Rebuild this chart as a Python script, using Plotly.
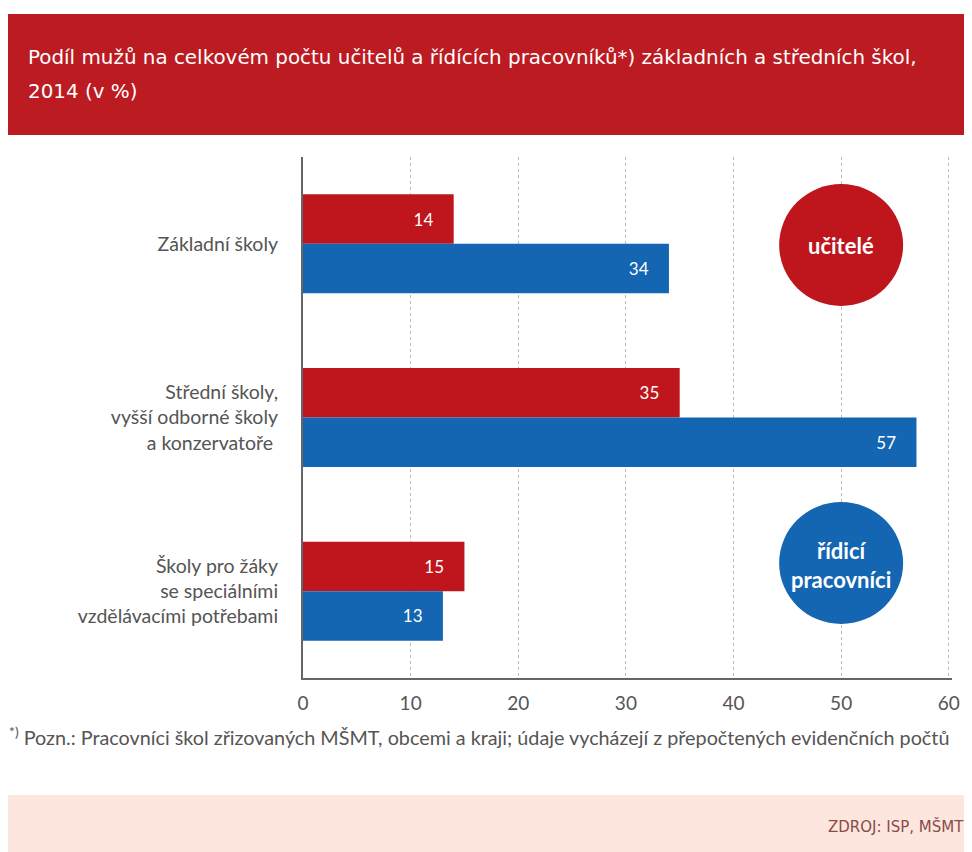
import plotly.graph_objects as go

categories = ["Základní školy",
              "Střední školy,<br>vyšší odborné školy<br>a konzervatoře ",
              "Školy pro žáky<br>se speciálními<br>vzdělávacími potřebami"]
teachers = [14, 35, 15]
managers = [34, 57, 13]
x_ticks = [0, 10, 20, 30, 40, 50, 60]

RED = "#BE161C"
BLUE = "#1466B2"
PAD = "\u00a0" * 4

O = 8  # page body margin
W, H = 972 - O, 852 - O
L, R, T, B = 303 - O, 952 - O, 157 - O, 678 - O  # plot area pixels (figure coords)
def px(x): return (x - O - L) / (R - L)
def py(y): return (B - (y - O)) / (B - T)

fig = go.Figure()
fig.add_trace(go.Bar(y=categories, x=teachers, orientation="h", name="učitelé",
                     marker=dict(color=RED, line=dict(width=0)),
                     text=[str(v) + PAD for v in teachers], textposition="inside",
                     insidetextanchor="end",
                     textfont=dict(color="white", size=17, family="Lato")))
fig.add_trace(go.Bar(y=categories, x=managers, orientation="h", name="řídicí pracovníci",
                     marker=dict(color=BLUE, line=dict(width=0)),
                     text=[str(v) + PAD for v in managers], textposition="inside",
                     insidetextanchor="end",
                     textfont=dict(color="white", size=17, family="Lato")))

shapes = [
    dict(type="rect", xref="paper", yref="paper", x0=px(8), x1=px(985), y0=py(135), y1=py(14),
         fillcolor="#BC1B21", line=dict(width=0), layer="below"),
    dict(type="rect", xref="paper", yref="paper", x0=px(8), x1=px(985), y0=py(870), y1=py(795),
         fillcolor="#FCE6DE", line=dict(width=0), layer="below"),
    dict(type="circle", xref="x", xsizemode="pixel", xanchor=50, x0=-62, x1=62,
         yref="paper", ysizemode="pixel", yanchor=py(245), y0=-61, y1=61,
         fillcolor=RED, line=dict(width=0), layer="above"),
    dict(type="circle", xref="x", xsizemode="pixel", xanchor=50, x0=-62, x1=62,
         yref="paper", ysizemode="pixel", yanchor=py(563), y0=-61, y1=61,
         fillcolor=BLUE, line=dict(width=0), layer="above"),
]

annotations = [
    dict(text="Podíl mužů na celkovém počtu učitelů a řídících pracovníků*) základních a středních škol,",
         xref="paper", yref="paper", x=px(26), y=py(57), xanchor="left", yanchor="middle",
         showarrow=False, font=dict(color="white", size=19.9, family="DejaVu Sans")),
    dict(text="2014 (v %)",
         xref="paper", yref="paper", x=px(26), y=py(91), xanchor="left", yanchor="middle",
         showarrow=False, font=dict(color="white", size=19.9, family="DejaVu Sans")),
    dict(text="<b>učitelé</b>", xref="x", x=50, yref="paper", y=py(245),
         xanchor="center", yanchor="middle", showarrow=False,
         font=dict(color="white", size=22, family="Lato")),
    dict(text="<b>řídicí<br>pracovníci</b>", xref="x", x=50, yref="paper", y=py(565),
         xanchor="center", yanchor="middle", showarrow=False,
         font=dict(color="white", size=22, family="Lato")),
    dict(text="<sup>*)</sup> Pozn.: Pracovníci škol zřizovaných MŠMT, obcemi a kraji; údaje vycházejí z přepočtených evidenčních počtů",
         xref="paper", yref="paper", x=px(7), y=py(736), xanchor="left", yanchor="middle",
         showarrow=False, font=dict(color="#555555", size=19.8, family="Lato")),
    dict(text="ZDROJ: ISP, MŠMT", xref="paper", yref="paper", x=px(966), y=py(826),
         xanchor="right", yanchor="middle", showarrow=False,
         font=dict(color="#8A4A4A", size=15, family="DejaVu Sans")),
]

fig.update_layout(
    width=W, height=H, barmode="group", bargap=0.43, bargroupgap=0,
    showlegend=False, plot_bgcolor="white", paper_bgcolor="white",
    margin=dict(l=L, r=W - R, t=T, b=H - B, autoexpand=False),
    shapes=shapes, annotations=annotations,
    xaxis=dict(range=[0, 60.3], tickvals=x_ticks, ticktext=[str(v) for v in x_ticks],
               showgrid=True, gridcolor="#BBBBBB", griddash="dot", gridwidth=1,
               showline=True, linecolor="#666666", linewidth=2, zeroline=False,
               ticks="", ticklen=0, ticklabelstandoff=7,
               tickfont=dict(size=19, color="#555555", family="Lato")),
    yaxis=dict(autorange="reversed", showgrid=False, showline=True, linecolor="#666666",
               linewidth=2, ticks="", ticklabelstandoff=19,
               tickfont=dict(size=19.5, color="#555555", family="Lato")),
)

fig.write_html("out.html")
